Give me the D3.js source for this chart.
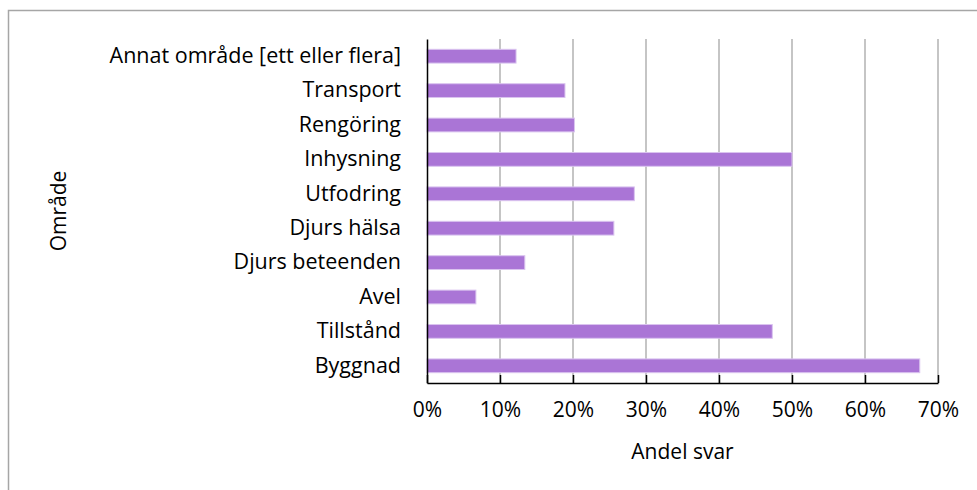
<!DOCTYPE html>
<html>
<head>
<meta charset="utf-8">
<script src="https://cdn.jsdelivr.net/npm/d3@7"></script>
<style>
  body { margin: 0; background: #fff; }
  svg text { font-family: "Open Sans", "Liberation Sans", sans-serif; fill: #000; }
</style>
</head>
<body>
<div id="chart"></div>
<script>
// categories top to bottom, as in the picture
var categories = ["Annat område [ett eller flera]", "Transport", "Rengöring", "Inhysning",
  "Utfodring", "Djurs hälsa", "Djurs beteenden", "Avel", "Tillstånd", "Byggnad"];
var values = [0.122, 0.189, 0.202, 0.500, 0.284, 0.256, 0.134, 0.067, 0.473, 0.675];
var ticks = [0, 0.1, 0.2, 0.3, 0.4, 0.5, 0.6, 0.7];

var svgWidth = 977, svgHeight = 490;
var margin = { top: 39, right: 39, bottom: 107, left: 427 };
var width = svgWidth - margin.left - margin.right;
var height = svgHeight - margin.top - margin.bottom;

var svg = d3.select("#chart").append("svg")
  .attr("width", svgWidth)
  .attr("height", svgHeight);

// chart area frame (only top and left visible)
svg.append("path")
  .attr("d", "M8.5,490V10.5H977")
  .attr("fill", "none")
  .attr("stroke", "#a6a6a6")
  .attr("stroke-width", 1.5);

var g = svg.append("g")
  .attr("transform", `translate(${margin.left},${margin.top})`);

var x = d3.scaleLinear().domain([0, 0.7]).range([0, width]);
var y = d3.scaleBand().domain(categories).range([0, height]).paddingInner(0.6).paddingOuter(0.3);

// gridlines
g.selectAll("line.grid")
  .data(ticks.slice(1))
  .enter()
  .append("line")
  .attr("class", "grid")
  .attr("x1", d => x(d)).attr("x2", d => x(d))
  .attr("y1", 0).attr("y2", height)
  .attr("stroke", "#a6a6a6")
  .attr("stroke-width", 1.3);

// bars
g.selectAll("rect.bar")
  .data(values)
  .enter()
  .append("rect")
  .attr("class", "bar")
  .attr("x", 0)
  .attr("y", (d, i) => y(categories[i]))
  .attr("width", d => x(d))
  .attr("height", y.bandwidth())
  .attr("fill", "#aa75d6")
  .attr("stroke", "#dac4ef")
  .attr("stroke-width", 1);

// x axis
var xAxis = d3.axisBottom(x)
  .tickValues(ticks)
  .tickFormat(d3.format(".0%"))
  .tickSizeInner(-8)
  .tickSizeOuter(0)
  .tickPadding(19);

var gx = g.append("g")
  .attr("transform", `translate(0,${height})`)
  .call(xAxis);
gx.select(".domain").attr("stroke", "#000").attr("stroke-width", 1.5);
gx.selectAll(".tick line").attr("stroke", "#000").attr("stroke-width", 1.5);
gx.selectAll(".tick text").attr("font-size", "21px").attr("dy", "0.71em");

// y axis
var yAxis = d3.axisLeft(y).tickSize(0).tickPadding(26);
var gy = g.append("g").call(yAxis);
gy.select(".domain").attr("stroke", "#000").attr("stroke-width", 1.5);
gy.selectAll(".tick text").attr("font-size", "21.5px");

// axis titles
g.append("text")
  .attr("x", width / 2)
  .attr("y", height + 76)
  .attr("text-anchor", "middle")
  .attr("font-size", "21px")
  .text("Andel svar");

svg.append("text")
  .attr("transform", `translate(66,${margin.top + height / 2}) rotate(-90)`)
  .attr("text-anchor", "middle")
  .attr("font-size", "21px")
  .text("Område");
</script>
</body>
</html>
